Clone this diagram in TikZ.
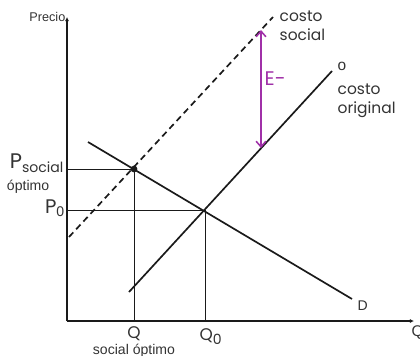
\documentclass[tikz,border=0pt]{standalone}
\usepackage{fontspec}
\setmainfont{Liberation Sans}
\newfontfamily\labelfont{Poppins}
\usepackage{tikz}
\usetikzlibrary{arrows.meta, positioning}
\definecolor{linegray}{HTML}{1A1A1A}
\definecolor{textgray}{HTML}{333333}
\definecolor{externpurple}{HTML}{A030A8}
\tikzstyle{axis} = [line width=0.9pt, color=linegray, -{Latex[length=3pt,width=3pt]}]
\tikzstyle{curve} = [line width=1.2pt, color=linegray]
\tikzstyle{guide} = [line width=0.6pt, color=linegray]
\tikzstyle{tag} = [text=textgray, inner sep=1pt, font=\fontsize{9}{11}\selectfont]
\tikzstyle{bigtag} = [text=textgray, inner sep=1pt, font=\labelfont\fontsize{11}{13.5}\selectfont, align=left]
\tikzstyle{arrow} = [line width=1.1pt, {Straight Barb[length=4pt,width=7pt]}-{Straight Barb[length=4pt,width=7pt]}, color=externpurple]

\begin{document}
\begin{tikzpicture}[x=0.025cm, y=-0.025cm, node distance=1pt]
    \useasboundingbox (0,0) rectangle (420,355);
    % ejes
    \coordinate (orig) at (67,321);
    \coordinate (ytop) at (67,17);
    \coordinate (xend) at (414,321);
    \draw[axis] (orig) -- (ytop);
    \draw[axis] (orig) -- (xend);
    \node[tag, anchor=east] (precio) at (ytop) {Precio};
    \node[tag, anchor=west, font=\fontsize{11}{13}\selectfont] (qaxis) at (410,333) {Q};

    % curvas
    \coordinate (dA) at (88,142);
    \coordinate (dB) at (352,299);
    \coordinate (oA) at (129,292);
    \coordinate (oB) at (332,71);
    \coordinate (sA) at (69,237);
    \coordinate (sB) at (273,17);
    \coordinate (esocial) at (134,169);
    \coordinate (eorig) at (205,210);
    \draw[curve] (dA) -- (dB);
    \draw[curve] (oA) -- (oB);
    \draw[curve, dash pattern=on 4.5pt off 3pt] (sA) -- (sB);
    \fill[linegray] (esocial) circle (2.4pt);

    % lineas guia
    \draw[guide] (esocial) -- (esocial -| orig);
    \draw[guide] (esocial) -- (esocial |- orig);
    \draw[guide] (eorig) -- (eorig -| orig);
    \draw[guide] (eorig) -- (eorig |- orig);

    % externalidad
    \coordinate (etop) at (261,30);
    \coordinate (ebot) at (261,148);
    \draw[arrow] (ebot) -- (etop);
    \node[bigtag, anchor=west, text=externpurple, font=\labelfont\fontsize{14}{14}\selectfont] (ext) at (263,79) {E-};

    % etiquetas
    \node[tag, anchor=west, font=\fontsize{11}{11}\selectfont] (olabel) at (336,66) {o};
    \node[bigtag, anchor=north west] (costoorig) at (336,82) {costo\\original};
    \node[bigtag, anchor=north west] (costosoc) at (278,9) {costo\\social};
    \node[tag, anchor=west, font=\fontsize{10}{10}\selectfont] (dlabel) at (356,306) {D};
    \node[tag, anchor=east] (psocial) at (65,163) {{\labelfont\fontsize{15}{15}\selectfont P}\raisebox{-0.6ex}{\labelfont\fontsize{10}{10}\selectfont social}};
    \node[tag, below=of psocial.south west, anchor=north west, xshift=-2pt, yshift=-2pt, font=\fontsize{10}{12}\selectfont] (optimo) {óptimo};
    \node[tag, anchor=east] (pzero) at (66,208) {{\labelfont\fontsize{14}{14}\selectfont P}\raisebox{-0.5ex}{\fontsize{10}{10}\selectfont 0}};
    \node[tag, anchor=north, font=\labelfont\fontsize{12}{12}\selectfont] (qsocial) at (esocial |- orig) [yshift=-3pt] {Q};
    \node[tag, below=of qsocial, yshift=1.5pt, font=\fontsize{10}{12}\selectfont] (qsocopt) {social óptimo};
    \node[tag, anchor=north, font=\labelfont\fontsize{12}{12}\selectfont] (qzero) at (eorig |- orig) [yshift=-4pt, xshift=4pt] {Q\raisebox{-0.5ex}{\fontsize{10}{10}\selectfont 0}};
\end{tikzpicture}
\end{document}
